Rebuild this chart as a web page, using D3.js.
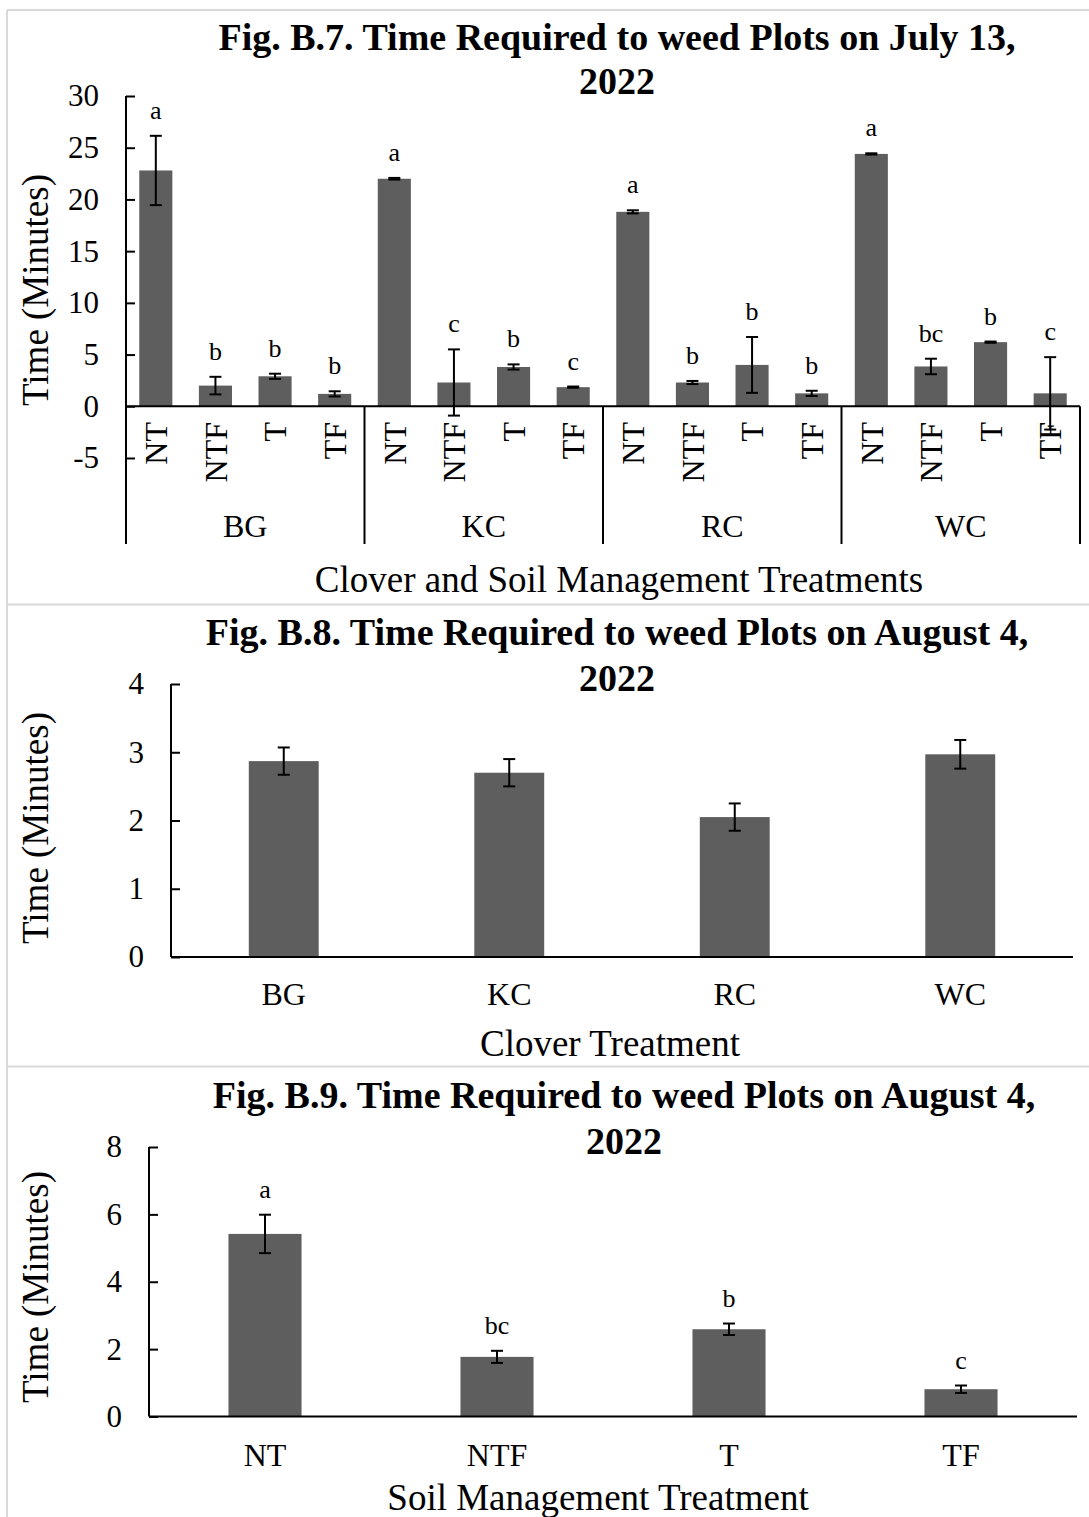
<!DOCTYPE html>
<html>
<head>
<meta charset="utf-8">
<script src="https://cdn.jsdelivr.net/npm/d3@7"></script>
<style>
  body { margin: 0; background: #fff; }
  svg { display: block; }
</style>
</head>
<body>
<svg id="chart"></svg>
<script>
// ---- data ----
const groups = ["BG", "KC", "RC", "WC"];
const soils = ["NT", "NTF", "T", "TF"];

// Fig B.7 (July 13) - rows = clover group, cols = soil treatment
const julyMeans = [
    [22.8, 2.0, 2.9, 1.2],
    [22.0, 2.3, 3.8, 1.85],
    [18.8, 2.3, 4.0, 1.25],
    [24.4, 3.85, 6.2, 1.25]
];
const julyErr = [
    [3.35, 0.85, 0.25, 0.25],
    [0.08, 3.2, 0.25, 0.06],
    [0.15, 0.15, 2.7, 0.25],
    [0.06, 0.75, 0.06, 3.5]
];
const julyLetters = [
    ["a", "b", "b", "b"],
    ["a", "c", "b", "c"],
    ["a", "b", "b", "b"],
    ["a", "bc", "b", "c"]
];
const julyTicks = [-5, 0, 5, 10, 15, 20, 25, 30];

// Fig B.8 (Aug 4, clover)
const augClover = [2.87, 2.70, 2.05, 2.97];
const augCloverErr = [0.20, 0.20, 0.20, 0.21];
const augCloverTicks = [0, 1, 2, 3, 4];

// Fig B.9 (Aug 4, soil)
const augSoil = [5.42, 1.77, 2.59, 0.81];
const augSoilErr = [0.57, 0.18, 0.17, 0.11];
const augSoilLetters = ["a", "bc", "b", "c"];
const augSoilTicks = [0, 2, 4, 6, 8];

// ---- settings ----
const width = 1089, height = 1517;
const serif = "'Liberation Serif', 'Times New Roman', serif";
const barColor = "#5e5e5e";
const frameColor = "#d9d9d9";

const svg = d3.select("#chart").attr("width", width).attr("height", height)
    .style("font-family", serif);

svg.append("rect").attr("width", width).attr("height", height).attr("fill", "#fff");

// panel frames
[10, 604.5, 1066.5].forEach(function (y) {
    svg.append("line").attr("x1", 7).attr("x2", width).attr("y1", y).attr("y2", y)
        .attr("stroke", frameColor).attr("stroke-width", 2);
});
svg.append("line").attr("x1", 7).attr("x2", 7).attr("y1", 10).attr("y2", height)
    .attr("stroke", frameColor).attr("stroke-width", 2);

function title(lines, cx, y0, dy) {
    lines.forEach(function (t, i) {
        svg.append("text").attr("x", cx).attr("y", y0 + i * dy)
            .attr("text-anchor", "middle").attr("font-weight", "bold")
            .attr("font-size", 38).text(t);
    });
}

function yTitle(cy) {
    svg.append("text")
        .attr("transform", "translate(48," + cy + ") rotate(-90)")
        .attr("text-anchor", "middle").attr("font-size", 37)
        .text("Time (Minutes)");
}

function yAxis(scale, x, ticks) {
    const g = svg.append("g").attr("transform", "translate(" + x + ",0)")
        .call(d3.axisLeft(scale).tickValues(ticks).tickFormat(d => String(d))
            .tickSize(-9).tickSizeOuter(0).tickPadding(27));
    g.select(".domain").remove();
    g.selectAll(".tick line").attr("stroke", "#000").attr("stroke-width", 2);
    g.selectAll(".tick text").attr("font-size", 31).attr("font-family", serif).attr("fill", "#000");
    return g;
}

function errBar(cx, y, top, bottom) {
    const cap = 6;
    svg.append("line").attr("x1", cx).attr("x2", cx).attr("y1", top).attr("y2", bottom)
        .attr("stroke", "#000").attr("stroke-width", 2);
    [top, bottom].forEach(function (yy) {
        svg.append("line").attr("x1", cx - cap).attr("x2", cx + cap).attr("y1", yy).attr("y2", yy)
            .attr("stroke", "#000").attr("stroke-width", 2);
    });
}

//// FIG B.7
title(["Fig. B.7. Time Required to weed Plots on July 13,", "2022"], 617, 50, 44);

const y1 = d3.scaleLinear().domain([-5, 30]).range([458, 96]);
const xG = d3.scaleBand().domain(groups).range([126, 1080]);
const xS = d3.scaleBand().domain(soils).range([0, xG.bandwidth()])
    .paddingInner(0.445).paddingOuter(0.2225);

yAxis(y1, 126, julyTicks);

groups.forEach(function (g, i) {
    soils.forEach(function (s, j) {
        const m = julyMeans[i][j], e = julyErr[i][j];
        const x = xG(g) + xS(s);
        const cx = x + xS.bandwidth() / 2;
        svg.append("rect").attr("x", x).attr("width", xS.bandwidth())
            .attr("y", y1(m)).attr("height", y1(0) - y1(m)).attr("fill", barColor);
        errBar(cx, y1(m), y1(m + e), y1(m - e));
        svg.append("text").attr("x", cx).attr("y", y1(m + e) - 17)
            .attr("text-anchor", "middle").attr("font-size", 26).text(julyLetters[i][j]);
        svg.append("text")
            .attr("transform", "translate(" + cx + ",422) rotate(-90)")
            .attr("text-anchor", "end").attr("dy", "0.35em").attr("font-size", 32).text(s);
    });
    svg.append("text").attr("x", xG(g) + xG.bandwidth() / 2).attr("y", 537)
        .attr("text-anchor", "middle").attr("font-size", 32).text(g);
});

// category axis lines
svg.append("line").attr("x1", 126).attr("x2", 1080).attr("y1", y1(0)).attr("y2", y1(0))
    .attr("stroke", "#000").attr("stroke-width", 2);
svg.append("line").attr("x1", 126).attr("x2", 126).attr("y1", 96).attr("y2", 544)
    .attr("stroke", "#000").attr("stroke-width", 2);
groups.slice(1).map(g => xG(g)).concat([xG.range()[1]]).forEach(function (x) {
    svg.append("line").attr("x1", x).attr("x2", x).attr("y1", y1(0)).attr("y2", 544)
        .attr("stroke", "#000").attr("stroke-width", 2);
});

svg.append("text").attr("x", 619).attr("y", 592).attr("text-anchor", "middle")
    .attr("font-size", 37).text("Clover and Soil Management Treatments");
yTitle(290);

//// simple bar panels
function simplePanel(o) {
    const y = d3.scaleLinear().domain([o.ticks[0], o.ticks[o.ticks.length - 1]]).range([o.y0, o.y1]);
    const x = d3.scaleBand().domain(o.cats).range([o.x0, o.x1]).paddingInner(o.pad).paddingOuter(o.pad / 2);

    title(o.title, o.titleX, o.titleY, 46);
    yAxis(y, o.x0, o.ticks);

    o.cats.forEach(function (c, i) {
        const m = o.means[i], e = o.err[i];
        const cx = x(c) + x.bandwidth() / 2;
        svg.append("rect").attr("x", x(c)).attr("width", x.bandwidth())
            .attr("y", y(m)).attr("height", y(0) - y(m)).attr("fill", barColor);
        errBar(cx, y(m), y(m + e), y(m - e));
        if (o.letters) {
            svg.append("text").attr("x", cx).attr("y", y(m + e) - 17)
                .attr("text-anchor", "middle").attr("font-size", 26).text(o.letters[i]);
        }
        svg.append("text").attr("x", cx).attr("y", o.labelY)
            .attr("text-anchor", "middle").attr("font-size", 32).text(c);
    });

    svg.append("line").attr("x1", o.x0).attr("x2", o.x0).attr("y1", o.y1).attr("y2", o.y0)
        .attr("stroke", "#000").attr("stroke-width", 2);
    svg.append("line").attr("x1", o.x0).attr("x2", o.x1).attr("y1", y(0)).attr("y2", y(0))
        .attr("stroke", "#000").attr("stroke-width", 2);

    svg.append("text").attr("x", o.xTitleX).attr("y", o.xTitleY).attr("text-anchor", "middle")
        .attr("font-size", 37).text(o.xTitle);
    yTitle(o.yTitleY);
}

simplePanel({
    title: ["Fig. B.8. Time Required to weed Plots on August 4,", "2022"],
    titleX: 617, titleY: 645,
    cats: groups, means: augClover, err: augCloverErr, ticks: augCloverTicks,
    x0: 171, x1: 1073, y0: 957, y1: 684, pad: 0.69,
    labelY: 1005, xTitle: "Clover Treatment", xTitleX: 610, xTitleY: 1056, yTitleY: 828
});

simplePanel({
    title: ["Fig. B.9. Time Required to weed Plots on August 4,", "2022"],
    titleX: 624, titleY: 1108,
    cats: soils, means: augSoil, err: augSoilErr, letters: augSoilLetters, ticks: augSoilTicks,
    x0: 149, x1: 1077, y0: 1416.5, y1: 1147, pad: 0.685,
    labelY: 1466, xTitle: "Soil Management Treatment", xTitleX: 598, xTitleY: 1510, yTitleY: 1287
});
</script>
</body>
</html>
